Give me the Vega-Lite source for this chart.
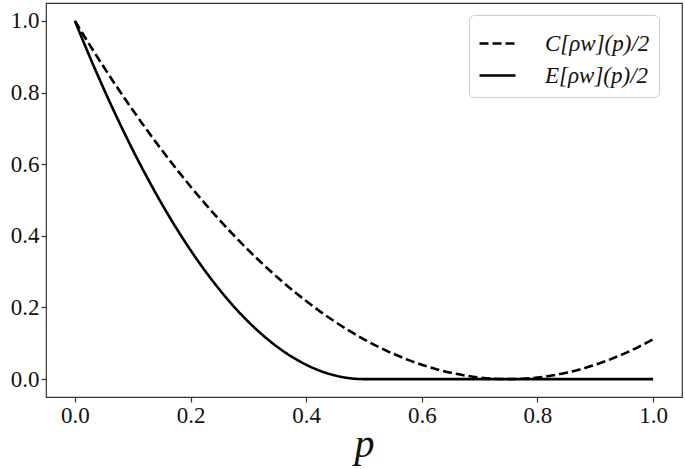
{
  "$schema": "https://vega.github.io/schema/vega-lite/v6.json",
  "width": 636,
  "height": 394,
  "autosize": {"type": "none"},
  "padding": {"left": 46, "top": 3, "right": 3, "bottom": 72},
  "background": "white",
  "config": {
    "view": {"stroke": "#333333", "strokeWidth": 1.2},
    "font": "Liberation Serif"
  },
  "data": {
    "values": [
      {"p": 0.0, "v": 1.0, "s": "C"},
      {"p": 0.025, "v": 0.93444, "s": "C"},
      {"p": 0.05, "v": 0.87111, "s": "C"},
      {"p": 0.075, "v": 0.81, "s": "C"},
      {"p": 0.1, "v": 0.75111, "s": "C"},
      {"p": 0.125, "v": 0.69444, "s": "C"},
      {"p": 0.15, "v": 0.64, "s": "C"},
      {"p": 0.175, "v": 0.58778, "s": "C"},
      {"p": 0.2, "v": 0.53778, "s": "C"},
      {"p": 0.225, "v": 0.49, "s": "C"},
      {"p": 0.25, "v": 0.44444, "s": "C"},
      {"p": 0.275, "v": 0.40111, "s": "C"},
      {"p": 0.3, "v": 0.36, "s": "C"},
      {"p": 0.325, "v": 0.32111, "s": "C"},
      {"p": 0.35, "v": 0.28444, "s": "C"},
      {"p": 0.375, "v": 0.25, "s": "C"},
      {"p": 0.4, "v": 0.21778, "s": "C"},
      {"p": 0.425, "v": 0.18778, "s": "C"},
      {"p": 0.45, "v": 0.16, "s": "C"},
      {"p": 0.475, "v": 0.13444, "s": "C"},
      {"p": 0.5, "v": 0.11111, "s": "C"},
      {"p": 0.525, "v": 0.09, "s": "C"},
      {"p": 0.55, "v": 0.07111, "s": "C"},
      {"p": 0.575, "v": 0.05444, "s": "C"},
      {"p": 0.6, "v": 0.04, "s": "C"},
      {"p": 0.625, "v": 0.02778, "s": "C"},
      {"p": 0.65, "v": 0.01778, "s": "C"},
      {"p": 0.675, "v": 0.01, "s": "C"},
      {"p": 0.7, "v": 0.00444, "s": "C"},
      {"p": 0.725, "v": 0.00111, "s": "C"},
      {"p": 0.75, "v": 0.0, "s": "C"},
      {"p": 0.775, "v": 0.00111, "s": "C"},
      {"p": 0.8, "v": 0.00444, "s": "C"},
      {"p": 0.825, "v": 0.01, "s": "C"},
      {"p": 0.85, "v": 0.01778, "s": "C"},
      {"p": 0.875, "v": 0.02778, "s": "C"},
      {"p": 0.9, "v": 0.04, "s": "C"},
      {"p": 0.925, "v": 0.05444, "s": "C"},
      {"p": 0.95, "v": 0.07111, "s": "C"},
      {"p": 0.975, "v": 0.09, "s": "C"},
      {"p": 1.0, "v": 0.11111, "s": "C"},
      {"p": 0.0, "v": 1.0, "s": "E"},
      {"p": 0.025, "v": 0.9025, "s": "E"},
      {"p": 0.05, "v": 0.81, "s": "E"},
      {"p": 0.075, "v": 0.7225, "s": "E"},
      {"p": 0.1, "v": 0.64, "s": "E"},
      {"p": 0.125, "v": 0.5625, "s": "E"},
      {"p": 0.15, "v": 0.49, "s": "E"},
      {"p": 0.175, "v": 0.4225, "s": "E"},
      {"p": 0.2, "v": 0.36, "s": "E"},
      {"p": 0.225, "v": 0.3025, "s": "E"},
      {"p": 0.25, "v": 0.25, "s": "E"},
      {"p": 0.275, "v": 0.2025, "s": "E"},
      {"p": 0.3, "v": 0.16, "s": "E"},
      {"p": 0.325, "v": 0.1225, "s": "E"},
      {"p": 0.35, "v": 0.09, "s": "E"},
      {"p": 0.375, "v": 0.0625, "s": "E"},
      {"p": 0.4, "v": 0.04, "s": "E"},
      {"p": 0.425, "v": 0.0225, "s": "E"},
      {"p": 0.45, "v": 0.01, "s": "E"},
      {"p": 0.475, "v": 0.0025, "s": "E"},
      {"p": 0.5, "v": 0.0, "s": "E"},
      {"p": 0.6, "v": 0.0, "s": "E"},
      {"p": 0.7, "v": 0.0, "s": "E"},
      {"p": 0.8, "v": 0.0, "s": "E"},
      {"p": 0.9, "v": 0.0, "s": "E"},
      {"p": 1.0, "v": 0.0, "s": "E"}
    ]
  },
  "mark": {"type": "line", "color": "black", "strokeWidth": 2.6, "interpolate": "monotone", "clip": true},
  "encoding": {
    "x": {
      "field": "p", "type": "quantitative",
      "scale": {"domain": [-0.05, 1.05], "nice": false, "zero": false},
      "axis": {
        "values": [0, 0.2, 0.4, 0.6, 0.8, 1.0], "format": ".1f",
        "grid": false, "domain": false,
        "tickSize": 5, "tickColor": "#333333", "tickWidth": 1.2,
        "labelFontSize": 23, "labelColor": "#111111", "labelPadding": 2,
        "title": "p", "titleFontSize": 40, "titleFontStyle": "italic", "titleFontWeight": "normal",
        "titleColor": "#111111", "titlePadding": -3
      }
    },
    "y": {
      "field": "v", "type": "quantitative",
      "scale": {"domain": [-0.05, 1.05], "nice": false, "zero": false},
      "axis": {
        "values": [0, 0.2, 0.4, 0.6, 0.8, 1.0], "format": ".1f",
        "grid": false, "domain": false,
        "tickSize": 5, "tickColor": "#333333", "tickWidth": 1.2,
        "labelFontSize": 23, "labelColor": "#111111", "labelPadding": 2,
        "title": null
      }
    },
    "strokeDash": {
      "field": "s", "type": "nominal",
      "scale": {"domain": ["C", "E"], "range": [[9, 4], [1, 0]]},
      "legend": {
        "orient": "none", "legendX": 423, "legendY": 12,
        "title": null,
        "labelExpr": "datum.value == 'C' ? 'C[ρw](p)/2' : 'E[ρw](p)/2'",
        "labelFontSize": 23, "labelFontStyle": "italic", "labelColor": "#111111",
        "labelLimit": 300, "labelOffset": 28,
        "symbolType": "stroke", "symbolSize": 1296, "symbolStrokeWidth": 2.6, "symbolStrokeColor": "black",
        "strokeColor": "#cccccc", "cornerRadius": 5, "padding": 9, "rowPadding": 0,
        "fillColor": "white"
      }
    }
  }
}
